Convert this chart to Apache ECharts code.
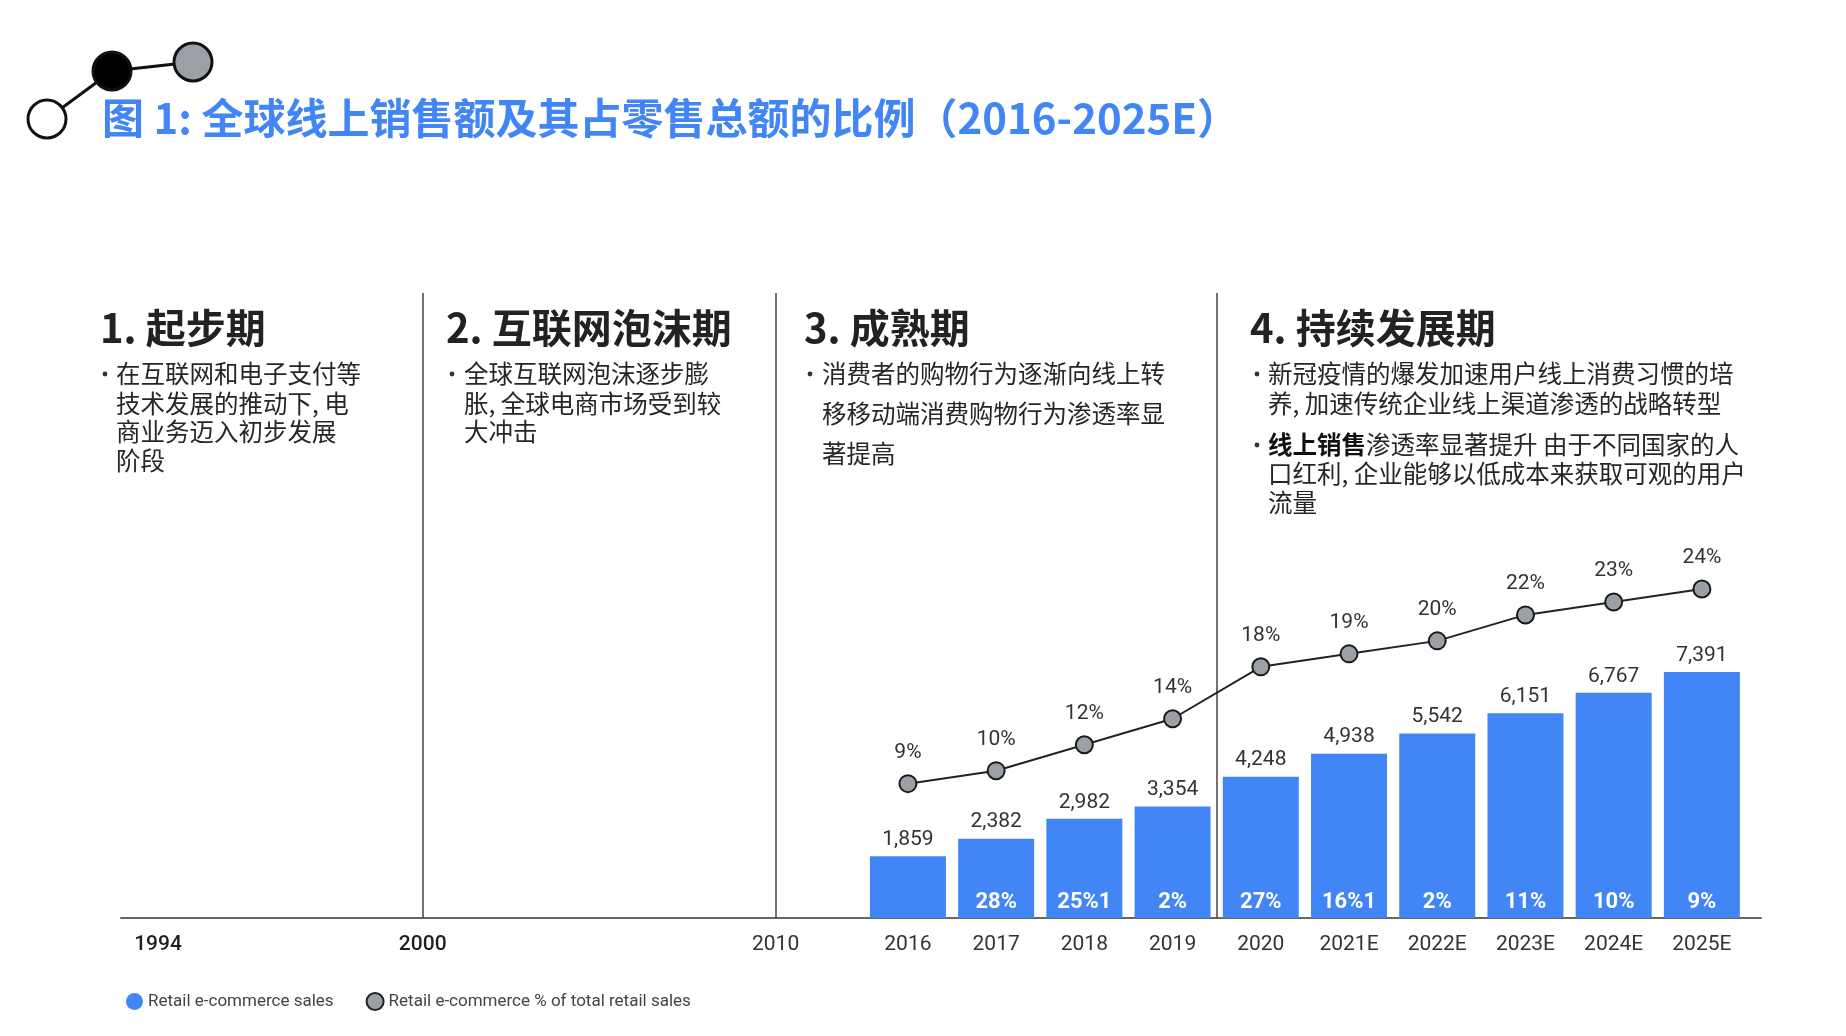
<!DOCTYPE html>
<html>
<head>
<meta charset="utf-8">
<script src="https://cdn.jsdelivr.net/npm/echarts@6/dist/echarts.min.js"></script>
<style>
html,body{margin:0;padding:0;background:#fff;}
#c{width:1846px;height:1036px;}
</style>
</head>
<body>
<div id="c"></div>
<script>
// ---- data ----
const years = ['2016','2017','2018','2019','2020','2021E','2022E','2023E','2024E','2025E'];
const sales = [1859, 2382, 2982, 3354, 4248, 4938, 5542, 6151, 6767, 7391];
const sharePct = [9, 10, 12, 14, 18, 19, 20, 22, 23, 24];
const growthLabels = ['', '28%', '25%1', '2%', '27%', '16%1', '2%', '11%', '10%', '9%'];
const timelineYears = ['1994', '2000', '2010'];
const seriesNames = ['Retail e-commerce sales', 'Retail e-commerce % of total retail sales'];

// ---- layout helpers ----
const timelineSlots = [-8.5, -5.5, -1.5];   // axis positions of the early-timeline ticks
const phaseDividers = [-5.5, -1.5, 3.5];

const CJK = "'Noto Sans CJK SC', sans-serif";
const LAT = "Roboto, 'Noto Sans', sans-serif";
const BLUE = '#4285F4';
const GRAY = '#9AA0A6';

const chart = echarts.init(document.getElementById('c'), null, {renderer: 'canvas'});

function txt(x, y, text, size, weight, color, extra) {
  return {
    type: 'text', silent: true,
    style: Object.assign({
      x: x, y: y, text: text, fontSize: size, fontWeight: weight || 'normal',
      fontFamily: CJK, fill: color || '#2b2b2b', verticalAlign: 'middle', align: 'left'
    }, extra || {})
  };
}

const graphics = [];
// decorative nodes
graphics.push({type:'line', silent:true, shape:{x1:47,y1:119,x2:112,y2:71}, style:{stroke:'#111', lineWidth:3}});
graphics.push({type:'line', silent:true, shape:{x1:112,y1:71,x2:193,y2:62}, style:{stroke:'#111', lineWidth:3}});
graphics.push({type:'circle', silent:true, shape:{cx:47,cy:119,r:19}, style:{fill:'#fff', stroke:'#111', lineWidth:3}});
graphics.push({type:'circle', silent:true, shape:{cx:112,cy:71,r:19}, style:{fill:'#000', stroke:'#111', lineWidth:3}});
graphics.push({type:'circle', silent:true, shape:{cx:193,cy:62,r:19}, style:{fill:GRAY, stroke:'#111', lineWidth:3}});
// title
graphics.push(txt(102, 118, '图 1: 全球线上销售额及其占零售总额的比例（2016-2025E）', 42, 'bold', BLUE));

// phase headings
const heads = [[100,'1. 起步期'],[446,'2. 互联网泡沫期'],[804,'3. 成熟期'],[1250,'4. 持续发展期']];
heads.forEach(h => graphics.push(txt(h[0], 328, h[1], 40, 'bold', '#222')));

// bullets
const sections = [
  {bx:105, tx:116, lines:[[374,'在互联网和电子支付等',true],[404,'技术发展的推动下, 电'],[432,'商业务迈入初步发展'],[461,'阶段']]},
  {bx:452, tx:464, lines:[[374,'全球互联网泡沫逐步膨',true],[404,'胀, 全球电商市场受到较'],[432,'大冲击']]},
  {bx:810, tx:822, lines:[[374,'消费者的购物行为逐渐向线上转',true],[414,'移移动端消费购物行为渗透率显'],[454,'著提高']]},
  {bx:1257, tx:1268, lines:[[374,'新冠疫情的爆发加速用户线上消费习惯的培',true],[404,'养, 加速传统企业线上渠道渗透的战略转型'],
                            [445,'{b|线上销售}渗透率显著提升 由于不同国家的人',true],[474,'口红利, 企业能够以低成本来获取可观的用户'],[503,'流量']]}
];
sections.forEach(s => {
  s.lines.forEach(l => {
    if (l[2]) graphics.push({type:'circle', silent:true, shape:{cx:s.bx, cy:l[0], r:2.4}, style:{fill:'#333'}});
    graphics.push(txt(s.tx, l[0], l[1], 24.5, 'normal', '#262626',
      {rich:{b:{fontSize:24.5, fontWeight:'bold', fontFamily:CJK, fill:'#111'}}}));
  });
});

const fmtNum = v => v.toLocaleString('en-US');

const option = {
  backgroundColor: '#fff',
  animation: false,
  graphic: graphics,
  grid: {left: 121, right: 85, top: 293, bottom: 118},
  legend: {
    left: 121, top: 987, icon: 'circle', itemWidth: 17, itemHeight: 17, itemGap: 32,
    textStyle: {fontSize: 17, color: '#444', fontFamily: LAT},
    data: [
      {name: seriesNames[0], itemStyle: {color: BLUE}},
      {name: seriesNames[1], itemStyle: {color: GRAY, borderColor: '#222', borderWidth: 2}}
    ]
  },
  xAxis: {
    type: 'value', min: -8.92, max: 9.67,
    axisLine: {show: true, onZero: false, lineStyle: {color: '#666', width: 2}},
    axisTick: {show: false},
    splitLine: {show: false},
    axisLabel: {
      customValues: timelineSlots.concat(years.map((y, i) => i)),
      margin: 16, fontSize: 21, color: '#333', fontFamily: LAT,
      formatter: function (v) {
        const k = timelineSlots.indexOf(v);
        if (k >= 0) return k < 2 ? '{d|' + timelineYears[k] + '}' : timelineYears[k];
        const i = Math.round(v);
        return years[i] !== undefined ? years[i] : '';
      },
      rich: {d: {fontSize: 21, color: '#1f1f1f', fontWeight: 500, fontFamily: LAT}}
    }
  },
  yAxis: [
    {type: 'value', min: 0, max: 18780, show: false, splitLine: {show: false}},
    {type: 'value', min: -1.35, max: 46.8, show: false, splitLine: {show: false}}
  ],
  series: [
    {
      name: seriesNames[0], type: 'bar', barWidth: 76, barGap: '-100%',
      data: sales.map((v, i) => [i, v]),
      itemStyle: {color: BLUE},
      label: {
        show: true, position: 'insideBottom', distance: 5,
        formatter: p => growthLabels[p.dataIndex],
        color: '#fff', fontSize: 22, fontWeight: 'bold', fontFamily: LAT
      },
      markLine: {
        silent: true, symbol: 'none', label: {show: false},
        lineStyle: {color: '#444', width: 1.5, type: 'solid'},
        data: phaseDividers.map(x => ({xAxis: x}))
      }
    },
    {
      name: 'labels', type: 'bar', barWidth: 76, barGap: '-100%',
      data: sales.map((v, i) => [i, v]),
      itemStyle: {color: 'rgba(0,0,0,0)'},
      label: {
        show: true, position: 'top', distance: 6,
        formatter: p => fmtNum(p.value[1]),
        color: '#333', fontSize: 21, fontFamily: LAT
      }
    },
    {
      name: seriesNames[1], type: 'line', yAxisIndex: 1,
      data: sharePct.map((v, i) => [i, v]),
      symbol: 'circle', symbolSize: 17,
      itemStyle: {color: GRAY, borderColor: '#1a1a1a', borderWidth: 2},
      lineStyle: {color: '#222', width: 2},
      label: {
        show: true, position: 'top', distance: 11,
        formatter: p => p.value[1] + '%',
        color: '#333', fontSize: 21, fontFamily: LAT
      },
      z: 5
    }
  ]
};
chart.setOption(option);
</script>
</body>
</html>
